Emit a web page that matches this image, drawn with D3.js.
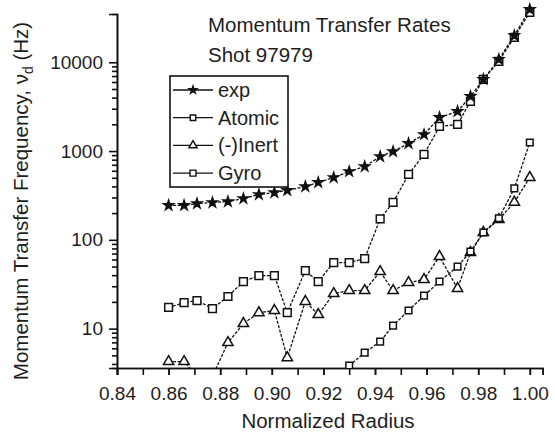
<!DOCTYPE html>
<html>
<head>
<meta charset="utf-8">
<script src="https://cdn.jsdelivr.net/npm/d3@7"></script>
<style>
  body { margin: 0; background: #fff; }
  svg text { font-family: "Liberation Sans", Arial, sans-serif; fill: #1e1e1e; }
  .axis path, .axis line { stroke: #111; stroke-width: 1.6px; }
</style>
</head>
<body>
<svg id="chart" width="555" height="437"></svg>
<script>
// normalized radius grid
var radius = [0.860, 0.866, 0.871, 0.877, 0.883, 0.889, 0.895, 0.901, 0.906, 0.913, 0.918, 0.924,
  0.930, 0.936, 0.942, 0.947, 0.953, 0.959, 0.965, 0.972, 0.977, 0.982, 0.988, 0.994, 1.000]

var expRate = [244, 244, 256, 263, 270, 292, 324, 341, 360, 399, 443, 504,
  589, 670, 869, 989, 1218, 1538, 2393, 2795, 4130, 6410, 10800, 20000, 39400]

var gyroRate = [17.3, 19.6, 20.7, 16.8, 23, 33.9, 39.6, 39.6, 15.1, 45, 33.9, 55.5,
  55.5, 61.5, 172, 264, 545, 916, 1894, 1995, 3625, 6410, 10240, 19100, 36600]

var inertRate = [4.25, 4.25, 2.9, 2.9, 6.95, 11.4, 15.1, 16, 4.7, 20.2, 14.4, 24.8,
  26.8, 26.8, 43.9, 26.8, 33, 35.7, 64.8, 28.3, 71.9, 121, 169, 265, 504]

var atomicRadius = [0.930, 0.936, 0.942, 0.947, 0.953, 0.959, 0.965, 0.972, 0.977, 0.982, 0.988, 0.994, 1.000]
var atomicRate = [3.83, 5.36, 7.14, 10.8, 16, 23.5, 33.9, 50, 73.8, 121, 175, 380, 1250]

var xTicks = [0.84, 0.86, 0.88, 0.90, 0.92, 0.94, 0.96, 0.98, 1.00]
var yTicks = [10, 100, 1000, 10000]
var yTickLabels = ['10', '100', '1000', '10000']

var legendNames = ['exp', 'Atomic', '(-)Inert', 'Gyro']

var svg = d3.select('#chart')

var x = d3.scaleLinear().domain([0.84, 1.005]).range([117, 542.7])
var y = d3.scaleLog().domain([3.6, 35000]).range([368, 14])

// minor ticks
var xMinor = []
for (var i = 84; i <= 100; i++) xMinor.push(i / 100)
var yMinor = []
for (var p = 0; p < 4; p++) {
  for (var m = 2; m <= 9; m++) {
    var v = m * Math.pow(10, p)
    if (v >= 3.6 && v <= 35000) yMinor.push(v)
  }
}

svg.append('g').attr('class', 'axis')
  .attr('transform', 'translate(0,368)')
  .call(d3.axisBottom(x).tickValues(xMinor).tickSize(7).tickFormat(''))
svg.append('g').attr('class', 'axis')
  .attr('transform', 'translate(0,368)')
  .call(d3.axisBottom(x).tickValues(xTicks).tickSize(7).tickFormat(d3.format('.2f')))
  .call(function (g) {
    g.selectAll('text').attr('y', 19).style('font-size', '19px')
  })

svg.append('g').attr('class', 'axis')
  .attr('transform', 'translate(117,0)')
  .call(d3.axisLeft(y).tickValues(yMinor).tickSize(5).tickFormat(''))
svg.append('g').attr('class', 'axis')
  .attr('transform', 'translate(117,0)')
  .call(d3.axisLeft(y).tickValues(yTicks).tickSize(8).tickFormat(function (d, i) { return yTickLabels[i] }))
  .call(function (g) {
    g.selectAll('text').attr('x', -14).style('font-size', '19px')
  })

svg.selectAll('.axis .domain').attr('stroke-width', 1.8)

// axis titles
svg.append('text')
  .text('Normalized Radius')
  .attr('text-anchor', 'middle')
  .attr('x', 328)
  .attr('y', 428)
  .style('font-size', '20.5px')

var yTitle = svg.append('text')
  .attr('text-anchor', 'middle')
  .attr('transform', 'translate(28,201) rotate(-90)')
  .style('font-size', '20.5px')
yTitle.append('tspan').text('Momentum Transfer Frequency, \u03bd')
yTitle.append('tspan').text('d').attr('dy', 5).style('font-size', '14px')
yTitle.append('tspan').text(' (Hz)').attr('dy', -5)

// title
svg.append('text').text('Momentum Transfer Rates')
  .attr('x', 208).attr('y', 32).style('font-size', '20.5px')
svg.append('text').text('Shot 97979')
  .attr('x', 208).attr('y', 62).style('font-size', '20.5px')

// data
svg.append('clipPath').attr('id', 'plotClip')
  .append('rect').attr('x', 117).attr('y', 0).attr('width', 438).attr('height', 368)

var plot = svg.append('g').attr('clip-path', 'url(#plotClip)')

var series = [
  { name: 'Gyro', xs: radius, ys: gyroRate, symbol: d3.symbolSquare, size: 60, fill: '#fff' },
  { name: '(-)Inert', xs: radius, ys: inertRate, symbol: d3.symbolTriangle, size: 46, fill: '#fff' },
  { name: 'Atomic', xs: atomicRadius, ys: atomicRate, symbol: d3.symbolSquare, size: 44, fill: '#fff' },
  { name: 'exp', xs: radius, ys: expRate, symbol: d3.symbolStar, size: 30, fill: '#111' }
]

var line = d3.line()
  .x(function (d) { return x(d[0]) })
  .y(function (d) { return y(d[1]) })

series.forEach(function (s) {
  var pts = s.xs.map(function (r, i) { return [r, s.ys[i]] })
  plot.append('path')
    .datum(pts)
    .attr('d', line)
    .attr('fill', 'none')
    .attr('stroke', '#111')
    .attr('stroke-width', 1.3)
    .attr('stroke-dasharray', '3,1.5')
  plot.selectAll(null)
    .data(pts)
    .enter().append('path')
    .attr('d', d3.symbol().type(s.symbol).size(s.size))
    .attr('transform', function (d) { return 'translate(' + x(d[0]) + ',' + y(d[1]) + ')' })
    .attr('fill', s.fill)
    .attr('stroke', '#111')
    .attr('stroke-width', 1.5)
})

// legend
var legend = svg.append('g')
legend.append('rect')
  .attr('x', 170).attr('y', 76).attr('width', 118).attr('height', 111)
  .attr('fill', '#fff').attr('stroke', '#111').attr('stroke-width', 1.6)

var legendSymbols = {
  exp: { symbol: d3.symbolStar, size: 18, fill: '#111' },
  Atomic: { symbol: d3.symbolSquare, size: 30, fill: '#fff' },
  '(-)Inert': { symbol: d3.symbolTriangle, size: 30, fill: '#fff' },
  Gyro: { symbol: d3.symbolSquare, size: 36, fill: '#fff' }
}

legendNames.forEach(function (name, i) {
  var ly = 90 + i * 27.7
  legend.append('line')
    .attr('x1', 173).attr('x2', 213).attr('y1', ly).attr('y2', ly)
    .attr('stroke', '#111').attr('stroke-width', 1.3)
  legend.append('path')
    .attr('d', d3.symbol().type(legendSymbols[name].symbol).size(legendSymbols[name].size))
    .attr('transform', 'translate(193,' + ly + ')')
    .attr('fill', legendSymbols[name].fill)
    .attr('stroke', '#111').attr('stroke-width', 1.4)
  legend.append('text')
    .text(name)
    .attr('x', 218).attr('y', ly + 7)
    .style('font-size', '20px')
})
</script>
</body>
</html>
